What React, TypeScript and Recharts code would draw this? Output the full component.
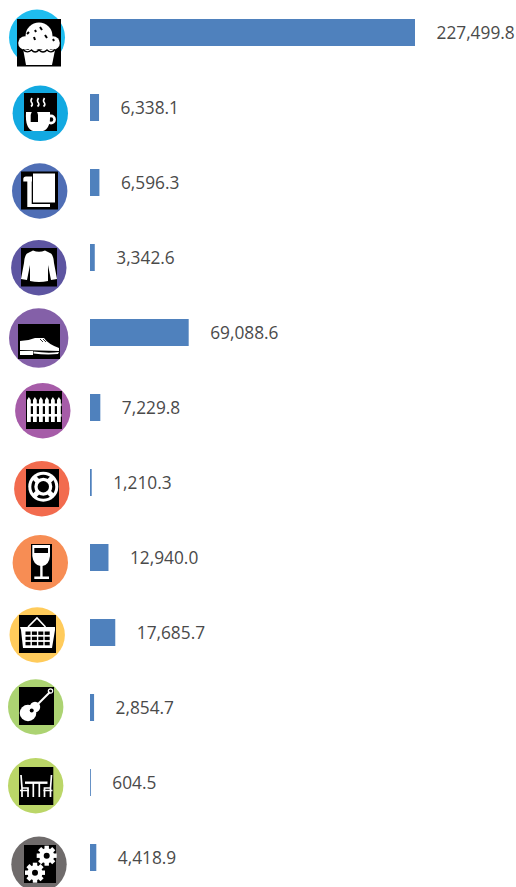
import { Bar, BarChart, LabelList, XAxis, YAxis } from 'recharts'

const categories = ['Bakery', 'Coffee', 'Towels', 'Clothing', 'Shoes', 'Fencing', 'Safety', 'Wine', 'Grocery', 'Music', 'Furniture', 'Machinery']
const values = [227499.8, 6338.1, 6596.3, 3342.6, 69088.6, 7229.8, 1210.3, 12940.0, 17685.7, 2854.7, 604.5, 4418.9]
const circleColors = ['#1FBDEF', '#12A9E1', '#4F6EB5', '#5D55A1', '#8460A8', '#A65CA8', '#F26B4E', '#F78D54', '#FFCB5B', '#ACD372', '#BBD668', '#6F6B6B']

const data = categories.map((name, i) => ({ name, value: values[i] }))

const fmt = (v: number) => v.toLocaleString('en-US', { minimumFractionDigits: 1, maximumFractionDigits: 1 })

const W = '#fff'
const K = '#000'

const Muffin = () => (
  <g fill={W}>
    <circle cx={22} cy={17} r={13.5} />
    <circle cx={8} cy={24} r={6.8} />
    <circle cx={36} cy={24} r={6.8} />
    <circle cx={16} cy={25} r={7} />
    <circle cx={29} cy={25} r={7} />
    <path d="M6.3 31 L38 31 L35 46 L9 46 Z" />
    <path d="M6 30.5 Q10 35 14.5 31 Q18 35 22 31 Q26 35 30 31 Q34 35 38 30.5" fill="none" stroke={K} strokeWidth={1.4} />
    <path d="M10 15 l2 -2 M23 8 l2 3 M17 18 l1 3 M18 11 l1 2 M28 16 l2 3 M36 20 l1 2" stroke={K} strokeWidth={2} />
  </g>
)

const Cup = () => (
  <g>
    <path d="M2 19 L26 19 Q27 36 19 38 L9 38 Q1 36 2 19 Z" fill={W} />
    <circle cx={27} cy={26.5} r={3.6} fill="none" stroke={W} strokeWidth={2.6} />
    <path d="M6.7 29 L6.7 22 Q8 17 10.5 16 Q13 17 14 22 L14 29 Z" fill={K} />
    <path d="M8 5 q-2 3 0 5 q1 2 -1 3.5 M14.5 5 q-2 3 0 5 q1 2 -1 3.5 M20.5 5 q-2 3 0 5 q1 2 -1 3.5" fill="none" stroke={W} strokeWidth={1.6} />
  </g>
)

const Towel = () => (
  <g fill={W}>
    <rect x={12} y={2} width={22} height={29} />
    <path d="M6.3 9 L10.7 9 L10.7 32.5 L29 32.5 L29 35.5 L6.3 35.5 Z" />
    <path d="M2.3 7.5 Q2.3 5 5 5 L11 5 L11 10 L2.3 10 Z" />
  </g>
)

const Sweater = () => (
  <path
    d="M12 2.5 Q18 5 24 2.5 L30 5.5 Q32.5 8 33 15 L36 31 L30 32 L27 17 L27 33 Q18 35 9 33 L9 17 L6 32 L0 31 L3 15 Q3.5 8 6 5.5 Z"
    fill={W}
  />
)

const Shoe = () => (
  <g fill={W}>
    <path d="M2 17 Q10 17 17 14 L26 14 Q30 20 41 24 L41 27 L2 26 Z" />
    <path d="M2 27 L15 27 L15 31 L2 31 Z" />
    <path d="M15.5 27.5 Q30 29.5 41 28 L40 30 Q28 31 15.5 29.5 Z" />
    <path d="M22 15 L25 18 M25 15 L28 18" stroke={K} strokeWidth={0.8} />
  </g>
)

const Fence = () => (
  <g fill={W}>
    {[1, 7, 13, 19, 25, 31].map(x => (
      <path key={x} d={`M${x} 9 L${x + 1.9} 6 L${x + 3.8} 9 L${x + 3.8} 31 L${x} 31 Z`} />
    ))}
    <rect x={1} y={12.5} width={34.5} height={2.6} />
    <rect x={1} y={23} width={34.5} height={2.6} />
  </g>
)

const Lifebuoy = () => (
  <g>
    <circle cx={17.3} cy={17.7} r={15} fill={W} />
    <circle cx={17.3} cy={17.7} r={10.5} fill="none" stroke={K} strokeWidth={3} />
    <path d="M7.3 7.7 L27.3 27.7 M27.3 7.7 L7.3 27.7" stroke={W} strokeWidth={5} />
    <circle cx={17.3} cy={17.7} r={5.7} fill={K} />
  </g>
)

const Glass = () => (
  <g fill={W}>
    <path d="M1.3 1 L19 1 L19 12 Q18 21 11.5 22 L9.5 22 Q2.3 21 1.3 12 Z" />
    <rect x={3.3} y={4} width={13.7} height={5} fill={K} />
    <rect x={9.2} y={22} width={2.4} height={11} />
    <rect x={3.3} y={32.5} width={14.7} height={2.5} />
  </g>
)

const Basket = () => (
  <g>
    <path d="M9 12 L18 3 L26.5 12" fill="none" stroke={W} strokeWidth={1.6} />
    <path d="M1 12 L36 12 L36 15 L33 33 L4 33 L2 15 Z" fill={W} />
    {[0, 1, 2, 3].flatMap(c =>
      [0, 1, 2].map(r => <rect key={`${c}-${r}`} x={6.5 + c * 6.4} y={16.5 + r * 5.2} width={5} height={3.4} fill={K} />),
    )}
  </g>
)

const Guitar = () => (
  <g>
    <circle cx={9} cy={26} r={8.3} fill={W} />
    <circle cx={16} cy={20} r={5.2} fill={W} />
    <circle cx={12.7} cy={23.5} r={2} fill={K} />
    <path d="M15 21 L31 5" stroke={W} strokeWidth={2} />
    <circle cx={31.5} cy={4} r={2.2} fill="none" stroke={W} strokeWidth={1.2} />
  </g>
)

const DiningTable = () => (
  <g fill="none" stroke={W} strokeWidth={1.7}>
    <path d="M2 8 L3 21 L9 21 L9 30 M3 21 L3 30" />
    <path d="M32.5 8 L31.5 21 L25.5 21 L25.5 30 M31.5 21 L31.5 30" />
    <path d="M6 15.7 L28.5 15.7" strokeWidth={2.4} />
    <path d="M14.3 15.7 L14.3 30 M20.3 15.7 L20.3 30" />
    <path d="M1 23.5 L10 23.5 M24.5 23.5 L33.5 23.5" />
  </g>
)

const gear = (cx: number, cy: number, r: number) => (
  <g>
    {[0, 45, 90, 135].map(a => (
      <rect key={a} x={cx - 2.2} y={cy - r - 2.5} width={4.4} height={2 * r + 5} fill={W} transform={`rotate(${a} ${cx} ${cy})`} />
    ))}
    <circle cx={cx} cy={cy} r={r} fill={W} />
    <circle cx={cx} cy={cy} r={r * 0.4} fill={K} />
  </g>
)

const Gears = () => (
  <g>
    {gear(22.7, 10.7, 7.5)}
    {gear(11, 27.7, 7.5)}
  </g>
)

// circle centre and radius, then the black box of the glyph, page px relative to the row centre
const iconPlace = [
  { Glyph: Muffin, cx: 37, dy: 5, r: 28, x: 17, y: -13.5, w: 44, h: 47.5 },
  { Glyph: Cup, cx: 40.3, dy: 5.8, r: 27.7, x: 24, y: -14.5, w: 33, h: 38 },
  { Glyph: Towel, cx: 39.7, dy: 8.5, r: 27.7, x: 21, y: -11, w: 37, h: 38 },
  { Glyph: Sweater, cx: 38.8, dy: 10.2, r: 27.7, x: 21, y: -9.5, w: 36, h: 38.5 },
  { Glyph: Shoe, cx: 38.7, dy: 5.5, r: 29.7, x: 18, y: -8.5, w: 42, h: 35 },
  { Glyph: Fence, cx: 42.8, dy: 3.2, r: 27.7, x: 26, y: -16.5, w: 36, h: 38 },
  { Glyph: Lifebuoy, cx: 41.8, dy: 6.2, r: 27.7, x: 26, y: -13.5, w: 33, h: 38 },
  { Glyph: Glass, cx: 40.3, dy: 5.2, r: 27.7, x: 31, y: -13.5, w: 21, h: 38 },
  { Glyph: Basket, cx: 37.2, dy: 2.5, r: 27.7, x: 19, y: -17.5, w: 37, h: 38 },
  { Glyph: Guitar, cx: 35.7, dy: -0.5, r: 27.7, x: 19, y: -20.5, w: 35, h: 38 },
  { Glyph: DiningTable, cx: 35.7, dy: 3.2, r: 27.7, x: 19, y: -15.5, w: 34.3, h: 38 },
  { Glyph: Gears, cx: 39, dy: 6.8, r: 27.7, x: 24, y: -12.5, w: 32, h: 38 },
]

function IconTick({ y, index }: { y?: number; index?: number }) {
  const i = index ?? 0
  const { Glyph, cx, dy, r, x, y: top, w, h } = iconPlace[i]
  return (
    <g transform={`translate(0, ${y})`}>
      <circle cx={cx} cy={dy} r={r} fill={circleColors[i]} />
      <g transform={`translate(${x}, ${top})`}>
        <rect width={w} height={h} fill={K} />
        <Glyph />
      </g>
    </g>
  )
}

export default function App() {
  return (
    <div style={{ position: 'absolute', left: 0, top: 0, width: 516, height: 887, overflow: 'hidden', background: '#fff' }}>
      <div style={{ position: 'absolute', left: 0, top: -5 }}>
        <BarChart
          width={516}
          height={900}
          data={data}
          layout="vertical"
          barSize={27}
          margin={{ top: 0, right: 101, bottom: 0, left: 0 }}
        >
          <XAxis type="number" hide domain={[0, 'dataMax']} />
          <YAxis
            type="category"
            dataKey="name"
            width={90}
            interval={0}
            axisLine={false}
            tickLine={false}
            tick={<IconTick />}
          />
          <Bar dataKey="value" fill="#4F81BD" isAnimationActive={false}>
            <LabelList
              dataKey="value"
              position="right"
              offset={21.5}
              formatter={(v: number) => fmt(v)}
              fill="#4A4A4A"
              style={{ fontFamily: '"Open Sans", sans-serif', fontSize: 17.3 }}
            />
          </Bar>
        </BarChart>
      </div>
    </div>
  )
}
